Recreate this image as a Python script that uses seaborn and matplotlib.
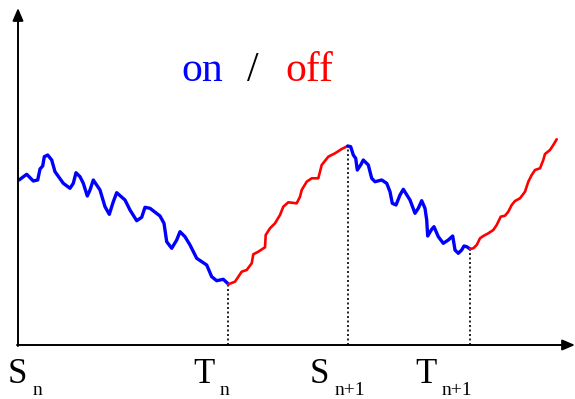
import matplotlib
matplotlib.use("Agg")
import matplotlib.pyplot as plt
import seaborn as sns
import pandas as pd

# Curve (x: time from the origin, y: height above the axis)
on1_x = [1.0, 8.7, 15.3, 19.7, 22.0, 24.7, 26.3, 29.7, 33.7, 37.0, 45.3, 52.0, 55.3, 58.0, 62.0,
         65.3, 69.3, 72.0, 75.3, 82.0, 87.0, 91.3, 95.3, 98.7, 107.0, 112.0, 118.7, 123.7, 127.0,
         132.0, 142.0, 146.0, 148.7, 153.7, 158.7, 162.0, 167.0, 172.0, 178.7, 188.7, 193.7,
         198.7, 205.3, 210.3]
on1_y = [165.0, 170.7, 164.0, 165.0, 176.0, 179.0, 188.3, 190.0, 185.0, 173.3, 161.7, 156.7,
         161.7, 172.3, 168.3, 161.7, 149.0, 155.0, 165.0, 155.0, 138.3, 130.7, 143.3, 152.3,
         145.0, 135.0, 124.3, 127.7, 137.7, 136.7, 129.0, 121.7, 103.3, 96.7, 105.0, 113.3,
         108.3, 100.0, 86.7, 80.0, 68.3, 64.3, 65.7, 61.0]
off1_x = [210.3, 217.0, 223.7, 228.7, 233.7, 235.3, 240.3, 247.0, 247.7, 252.0, 257.0, 262.0,
          265.3, 270.3, 278.7, 282.0, 283.7, 288.7, 293.7, 300.3, 303.7, 310.3, 317.0, 323.7,
          329.7]
off1_y = [60.7, 63.3, 73.3, 75.0, 81.7, 90.7, 93.3, 97.7, 110.0, 116.7, 121.7, 130.0, 138.3,
          142.7, 141.7, 148.3, 155.0, 163.3, 166.7, 166.7, 180.0, 188.3, 191.7, 196.0, 199.0]
on2_x = [329.7, 332.7, 335.3, 337.7, 339.3, 342.7, 345.3, 350.3, 353.7, 357.0, 363.7, 368.7,
         372.0, 374.3, 378.0, 382.0, 385.3, 392.0, 397.0, 400.3, 403.7, 407.0, 408.7, 409.7,
         413.7, 416.0, 420.3, 425.3, 430.3, 434.7, 437.0, 440.3, 443.7, 446.0, 448.7, 452.0]
on2_y = [199.0, 198.3, 190.0, 186.7, 175.0, 180.0, 185.0, 180.0, 166.7, 163.3, 165.0, 161.7,
         153.3, 141.7, 140.0, 150.0, 155.7, 145.0, 131.7, 136.7, 144.3, 136.7, 125.0, 109.0,
         115.7, 118.3, 108.3, 101.7, 105.0, 109.0, 95.0, 91.7, 95.0, 99.0, 98.3, 96.0]
off2_x = [452.0, 455.3, 458.7, 462.0, 465.3, 470.3, 475.3, 478.7, 482.7, 487.0, 490.3, 493.7,
          497.0, 502.0, 507.0, 510.3, 513.7, 517.0, 522.0, 525.3, 527.0, 532.0, 535.3, 538.7]
off2_y = [96.0, 96.7, 100.0, 106.7, 109.0, 111.7, 115.0, 120.0, 128.3, 129.3, 133.3, 140.0,
          144.0, 146.7, 153.3, 163.3, 170.0, 175.0, 176.7, 185.0, 191.0, 195.0, 200.0, 205.7]

# Switching instants and their labels
switch_x = [210.3, 329.7, 452.0]
switch_y = [60.7, 199.0, 96.0]
main_labels = ["S", "T", "S", "T"]
sub_labels = ["n", "n", "n+1", "n+1"]
label_x = [-10.0, 175.0, 292.0, 397.0]

fig = plt.figure(figsize=(5.75, 3.99), dpi=100)
ax = fig.add_axes([0, 0, 1, 1])
ax.set_xlim(-18, 557)
ax.set_ylim(-54, 345)
ax.axis("off")

segments = [(on1_x, on1_y, "#0000ff", 2.4), (off1_x, off1_y, "#ff0000", 1.9),
            (on2_x, on2_y, "#0000ff", 2.4), (off2_x, off2_y, "#ff0000", 1.9)]
for xs, ys, c, lw in segments:
    df = pd.DataFrame({"t": xs, "v": ys})
    sns.lineplot(data=df, x="t", y="v", ax=ax, color=c, lw=lw, sort=False,
                 estimator=None, zorder=3, solid_joinstyle="round", solid_capstyle="round")

for sx, sy in zip(switch_x, switch_y):
    ax.plot([sx, sx], [0, sy], color="black", lw=1.2, ls=(0, (1.2, 1.5)), zorder=2)

# Axes with arrows
ax.annotate("", xy=(557, 0), xytext=(-1, 0),
            arrowprops=dict(arrowstyle="-|>,head_length=0.75,head_width=0.32",
                            color="black", lw=1.4, shrinkA=0, shrinkB=0))
ax.annotate("", xy=(0, 337), xytext=(0, -1),
            arrowprops=dict(arrowstyle="-|>,head_length=0.75,head_width=0.32",
                            color="black", lw=1.4, shrinkA=0, shrinkB=0))

serif = ["Liberation Serif", "DejaVu Serif"]
for m, s, lx in zip(main_labels, sub_labels, label_x):
    t = ax.text(lx, -38, m, fontsize=25, family=serif, ha="left", va="baseline")
    ax.annotate(s, xy=(1, -50), xycoords=(t, "data"), xytext=(3.5, 0),
                textcoords="offset points", fontsize=14, family=serif,
                ha="left", va="baseline")

ax.text(163, 264, "on", fontsize=30, family=serif, color="#0000ff", ha="left", va="baseline")
ax.text(235, 264, "/", fontsize=30, family=serif, color="black", ha="center", va="baseline")
ax.text(267, 264, "off", fontsize=30, family=serif, color="#ff0000", ha="left", va="baseline")

fig.savefig("out.png", dpi=100)
